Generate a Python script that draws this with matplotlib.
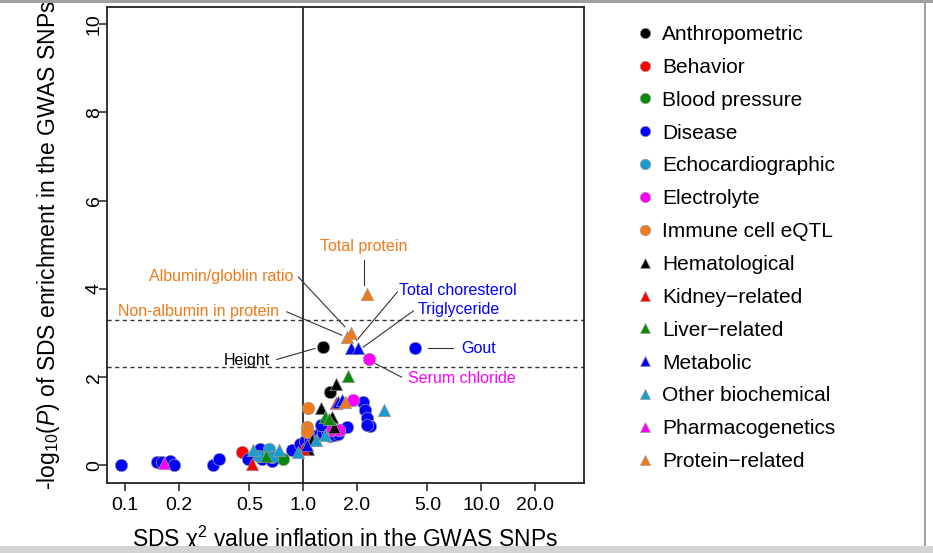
import matplotlib
matplotlib.use("Agg")
import matplotlib.pyplot as plt
from matplotlib.lines import Line2D
from matplotlib.patches import Rectangle

plt.rcParams['font.family'] = ['Liberation Sans', 'DejaVu Sans']
plt.rcParams['mathtext.fontset'] = 'custom'
plt.rcParams['mathtext.rm'] = 'Liberation Sans'
plt.rcParams['mathtext.it'] = 'Liberation Sans:italic'

# ---------------- data ----------------
categories = ["Anthropometric", "Behavior", "Blood pressure", "Disease",
              "Echocardiographic", "Electrolyte", "Immune cell eQTL",
              "Hematological", "Kidney\u2212related", "Liver\u2212related",
              "Metabolic", "Other biochemical", "Pharmacogenetics",
              "Protein\u2212related"]
colors = ["#000000", "#FF0000", "#0A8A0A", "#0000FF", "#1A9BCD", "#FF00FF",
          "#EE7A1A", "#000000", "#FF0000", "#0A8A0A", "#0000FF", "#1A9BCD",
          "#FF00FF", "#EE7A1A"]
markers = ["o"] * 7 + ["^"] * 7

anthro_x = [1.29, 1.42]
anthro_y = [2.68, 1.66]
behavior_x = [0.456]
behavior_y = [0.30]
bp_x = [0.769]
bp_y = [0.14]
disease_x = [0.0946, 0.152, 0.161, 0.179, 0.1885, 0.313, 0.339, 0.489, 0.573,
             0.586, 0.672, 0.864, 0.962, 1.026, 1.095, 1.143, 1.194, 1.246,
             1.30, 1.36, 1.42, 1.51, 1.58, 1.61, 1.27, 1.76, 2.16, 2.23, 2.30,
             2.38, 2.30, 4.26]
disease_y = [0.00, 0.07, 0.07, 0.10, 0.00, 0.00, 0.14, 0.15, 0.36,
             0.14, 0.09, 0.34, 0.49, 0.55, 0.57, 0.64, 0.68, 0.70,
             0.73, 0.78, 0.66, 0.68, 0.72, 0.79, 0.91, 0.88, 1.44, 1.25, 1.08,
             0.89, 0.91, 2.66]
echo_x = [0.566, 0.647, 0.667]
echo_y = [0.21, 0.38, 0.19]
electro_x = [1.45, 1.60, 1.91, 2.35]
electro_y = [0.81, 0.79, 1.47, 2.42]
immune_x = [1.07, 1.05, 1.05]
immune_y = [1.29, 0.86, 0.76]
hemat_x = [1.07, 1.12, 1.27, 1.45, 1.50, 1.53]
hemat_y = [0.38, 0.57, 1.29, 1.10, 0.88, 1.85]
kidney_x = [0.519, 1.00, 1.53]
kidney_y = [0.02, 0.36, 1.41]
liver_x = [0.620, 1.33, 1.40, 1.79]
liver_y = [0.21, 1.10, 1.06, 2.03]
metab_x = [1.05, 1.58, 1.65, 1.85, 2.03]
metab_y = [0.45, 1.44, 1.47, 2.65, 2.65]
other_x = [0.526, 0.733, 0.934, 1.19, 1.33, 2.85]
other_y = [0.34, 0.34, 0.30, 0.57, 0.68, 1.25]
pharma_x = [0.166]
pharma_y = [0.05]
protein_x = [1.72, 1.77, 1.86, 2.29]
protein_y = [1.44, 2.90, 3.00, 3.89]

series_x = [anthro_x, behavior_x, bp_x, disease_x, echo_x, electro_x, immune_x,
            hemat_x, kidney_x, liver_x, metab_x, other_x, pharma_x, protein_x]
series_y = [anthro_y, behavior_y, bp_y, disease_y, echo_y, electro_y, immune_y,
            hemat_y, kidney_y, liver_y, metab_y, other_y, pharma_y, protein_y]

x_ticks = [0.1, 0.2, 0.5, 1.0, 2.0, 5.0, 10.0, 20.0]
x_ticklabels = ["0.1", "0.2", "0.5", "1.0", "2.0", "5.0", "10.0", "20.0"]
y_ticks = [0, 2, 4, 6, 8, 10]
thresholds = [3.3, 2.22]

# annotations: (text, color, text_x, text_y, ha, line_x0, line_y0, line_x1, line_y1)
annotations = [
    ("Total protein", "#EE7A1A", 2.18, 4.95, "center", 2.21, 4.65, 2.21, 4.08),
    ("Albumin/globlin ratio", "#EE7A1A", 0.882, 4.27, "right", 0.941, 4.27, 1.72, 3.14),
    ("Non-albumin in protein", "#EE7A1A", 0.733, 3.49, "right", 0.81, 3.48, 1.65, 2.95),
    ("Height", "#000000", 0.653, 2.38, "right", 0.712, 2.40, 1.168, 2.65),
    ("Total choresterol", "#0000FF", 3.475, 3.97, "left", 3.39, 3.93, 2.0, 2.83),
    ("Triglyceride", "#0000FF", 4.39, 3.53, "left", 4.17, 3.50, 2.18, 2.68),
    ("Gout", "#0000FF", 7.79, 2.65, "left", 5.06, 2.65, 6.98, 2.65),
    ("Serum chloride", "#FF00FF", 3.905, 1.97, "left", 2.54, 2.31, 3.58, 2.00),
]

# ---------------- figure ----------------
W, H = 933, 553
fig = plt.figure(figsize=(W / 100, H / 100), dpi=100)
ax = fig.add_axes([107 / W, 1 - 483 / H, (584 - 107) / W, (483 - 6.5) / H])

ax.set_xscale("log")
ax.set_xlim(0.0792, 37.9)
ax.set_ylim(-0.4, 10.4)

ax.axvline(1.0, color="black", lw=1.1, zorder=1)
for t in thresholds:
    ax.axhline(t, color="#333333", lw=1.0, ls=(0, (3, 2.5)), zorder=1)

# circles first, then triangles
for i in range(len(categories)):
    ax.scatter(series_x[i], series_y[i], s=80, marker=markers[i],
               c=colors[i], edgecolors="#9a9a9a", linewidths=0.5, zorder=3 + (i >= 7))

for (txt, col, tx, ty, ha, x0, y0, x1, y1) in annotations:
    ax.text(tx, ty, txt, color=col, fontsize=11.5, ha=ha, va="center")
    ax.plot([x0, x1], [y0, y1], color="#333333", lw=0.8, zorder=2)

ax.set_xticks(x_ticks)
ax.set_xticklabels(x_ticklabels)
ax.xaxis.set_minor_locator(matplotlib.ticker.NullLocator())
ax.set_yticks(y_ticks)
ax.set_yticklabels([str(v) for v in y_ticks], rotation=90, va="center")
ax.tick_params(axis="both", length=6, width=1.1, labelsize=14, color="#222222")
ax.tick_params(axis="x", pad=4)
ax.tick_params(axis="y", pad=-3)
for sp in ax.spines.values():
    sp.set_linewidth(1.3)
    sp.set_color("#222222")

ax.set_xlabel("SDS \u03c7$^2$ value inflation in the GWAS SNPs", fontsize=16.5, labelpad=7)
ax.set_ylabel("-log$_{10}$($P$) of SDS enrichment in the GWAS SNPs", fontsize=16.5, labelpad=17)

# legend
handles = [Line2D([], [], marker=markers[i], ls="none", markersize=7.5,
                  markerfacecolor=colors[i], markeredgecolor="#9a9a9a",
                  markeredgewidth=0.5) for i in range(len(categories))]
fig.legend(handles, categories, loc="upper left", bbox_to_anchor=(632 / W, 1 - 25 / H),
           frameon=False, fontsize=15, labelspacing=0.665, handletextpad=0.25,
           handlelength=1.2, borderpad=0, borderaxespad=0)

# image frame
fig.add_artist(Rectangle((0, 1 - 2.5 / H), 1, 2.5 / H, transform=fig.transFigure,
                         color="#a0a0a0", lw=0))
fig.add_artist(Rectangle((0, 0), 1, 7 / H, transform=fig.transFigure,
                         color="#d4d4d4", lw=0))
fig.add_artist(Rectangle((924 / W, 7 / H), 2 / W, 1 - 9.5 / H, transform=fig.transFigure,
                         color="#a0a0a0", lw=0))

fig.savefig("out.png", dpi=100)
